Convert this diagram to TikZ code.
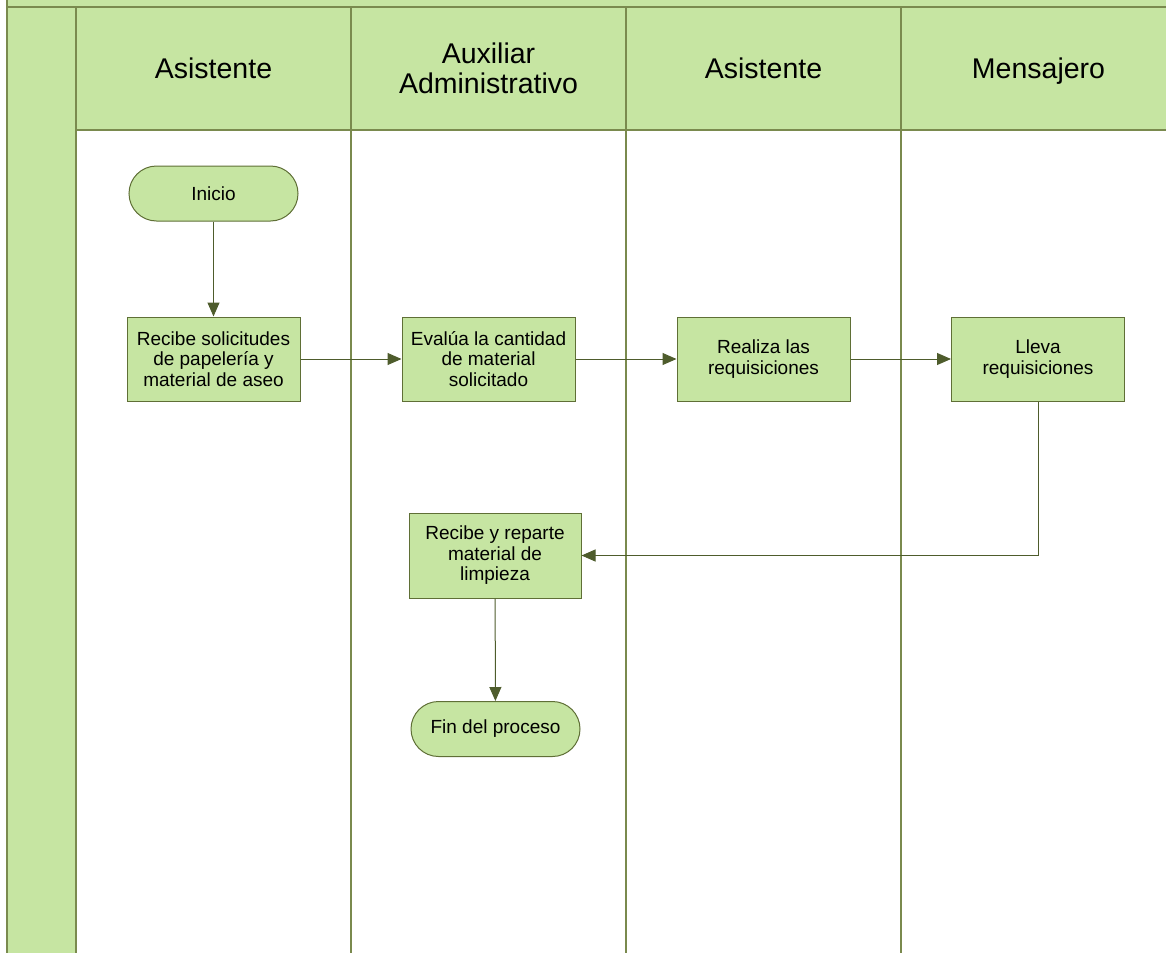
\documentclass[tikz,border=0pt]{standalone}
\usepackage{fontspec}
\setmainfont{Liberation Sans}
\usetikzlibrary{arrows.meta,shapes.misc}

\definecolor{lanefill}{HTML}{C6E5A2}
\definecolor{laneline}{HTML}{7A8A4E}
\definecolor{boxline}{HTML}{5F6F36}
\definecolor{flow}{HTML}{4E5C2C}

\tikzset{
  lanerule/.style={draw=laneline, line width=1.6pt},
  head/.style={font=\fontsize{28.5}{30}\selectfont, align=center, text=black},
  procbox/.style={draw=boxline, fill=lanefill, line width=1pt, minimum width=173pt,
    minimum height=84pt, inner sep=2pt, align=center,
    font=\fontsize{19}{20.5}\selectfont},
  termbox/.style={rounded rectangle, draw=boxline, fill=lanefill, line width=1pt,
    minimum width=173pt, minimum height=55pt, inner sep=2pt,
    font=\fontsize{19}{20.5}\selectfont},
  flowline/.style={draw=flow, line width=1pt,
    -{Triangle[length=14pt,width=12pt]}},
}

\begin{document}
\begin{tikzpicture}[x=1pt,y=-1pt]
\useasboundingbox (0,0) rectangle (1166,953);

% pool background: top strip, left title column, lane header row
\fill[lanefill] (7,0) rectangle (1166,7);
\fill[lanefill] (7,7) rectangle (76,953);
\fill[lanefill] (76,7) rectangle (1166,130);

% pool and lane borders
\draw[lanerule] (7,0) -- (7,953);
\draw[lanerule] (7,7) -- (1166,7);
\draw[lanerule] (76,7) -- (76,953);
\draw[lanerule] (76,130) -- (1166,130);
\draw[lanerule] (351,7) -- (351,953);
\draw[lanerule] (626,7) -- (626,953);
\draw[lanerule] (901,7) -- (901,953);

% lane titles
\node[head] (h1) at (213.5,68.5) {Asistente};
\node[head] (h2) at (488.5,68.5) {Auxiliar\\Administrativo};
\node[head] (h3) at (763.5,68.5) {Asistente};
\node[head] (h4) at (1038.5,71.5) {Mensajero};

% flow steps
\node[termbox] (inicio) at (213.5,193.5) {Inicio};
\node[procbox] (recibe) at (213.5,359) {Recibe solicitudes\\de papelería y\\material de aseo};
\node[procbox] (evalua) at (488.5,359) {Evalúa la cantidad\\de material\\solicitado};
\node[procbox] (realiza) at (763.5,359) {Realiza las\\requisiciones};
\node[procbox] (lleva) at (1038,359) {Lleva\\requisiciones};
\node[procbox, minimum width=172pt, minimum height=85pt] (reparte) at (495,555.5) {Recibe y reparte\\material de\\limpieza};
\node[termbox] (fin) at (495.5,729) {Fin del proceso};

% connectors
\draw[flowline] (inicio) -- (recibe);
\draw[flowline] (recibe) -- (evalua);
\draw[flowline] (evalua) -- (realiza);
\draw[flowline] (realiza) -- (lleva);
\draw[flowline] (lleva.south) |- (reparte.east);
\draw[flowline] (reparte) -- (fin);
\end{tikzpicture}
\end{document}
